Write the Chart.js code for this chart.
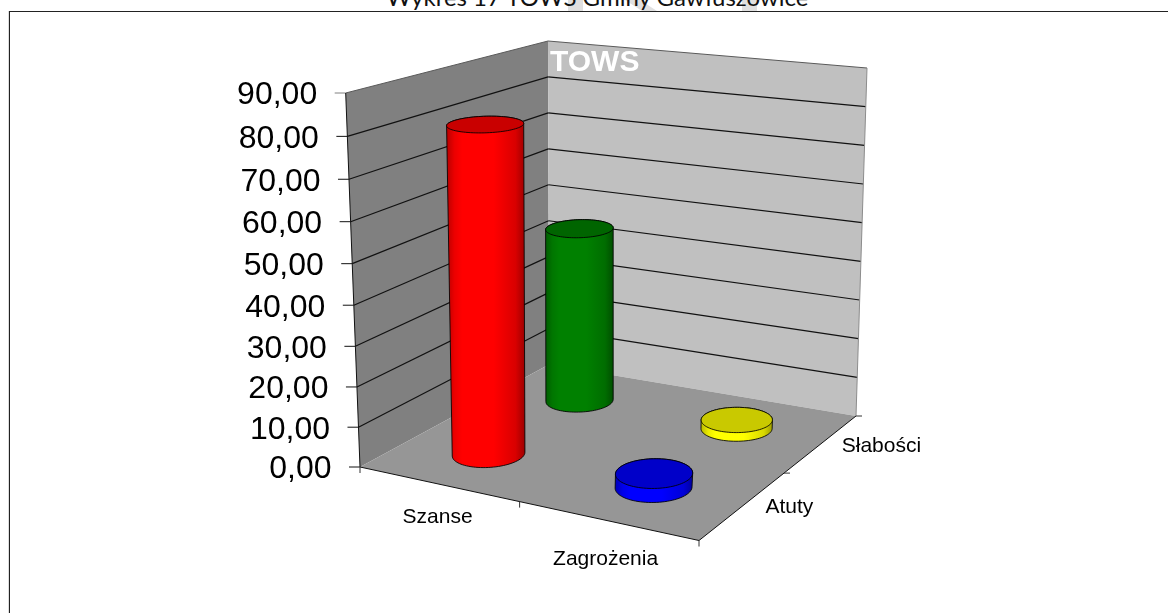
<!DOCTYPE html>
<html lang="pl"><head><meta charset="utf-8"><title>Wykres 17 TOWS Gminy Gawłuszowice</title>
<script src="https://cdn.jsdelivr.net/npm/chart.js@4"></script>
<style>
html,body{margin:0;padding:0;background:#fff;overflow:hidden;width:1168px;height:613px}
#wrap{position:relative;width:1168px;height:613px;overflow:hidden}
canvas{position:absolute;left:0;top:0}
.wm{position:absolute;left:0;top:0;width:1168px;height:11px;background:#e0e0e0}
#cap{position:absolute;left:0;width:1195px;text-align:center;top:-19px;font:24px/32px Lato,sans-serif;color:#111;white-space:nowrap}
#frame{position:absolute;left:9px;top:11px;right:-10px;bottom:-10px;border-left:1.5px solid #222;border-top:1.5px solid #222;box-shadow:-1px 0 0 #ddd}
</style></head><body><div id="wrap">
<div class="wm" style="clip-path:polygon(568px 0,583px 0,583px 11px,568px 11px)"></div>
<div class="wm" style="clip-path:polygon(625px 0,640px 0,657px 11px,642px 11px)"></div>
<div class="wm" style="clip-path:polygon(742px 0,757px 0,757px 11px,742px 11px)"></div>
<div id="cap">Wykres 17 TOWS Gminy Gawłuszowice</div><div id="frame"></div>
<canvas id="c" width="1168" height="613"></canvas></div>
<script>
const categories = ['Szanse', 'Zagrożenia'];
const depthLabels = ['Atuty', 'Słabości'];
const atuty = [81, 3.4];
const slabosci = [45.5, 2.2];
const atutyColors = ['#ff0000', '#0000ff'];
const slabosciColors = ['#008000', '#ffff00'];
const yMin = 0, yMax = 90, yStep = 10;

/* Scene geometry: the corners of the 3D box on the page (front-left, front-right, back-right, back-left) */
const floorCorners = [[360,467],[699,540.5],[856,416],[549,364.5]];
const ceilCorners = [[345.7,93],[730,142.5],[867,68],[548,41]];
const radiusU = 0.096, radiusW = 0.105;
const frontPerspective = 0.953, backPerspective = 1.0;

function homography(c){
  const [[x0,y0],[x1,y1],[x2,y2],[x3,y3]] = c;
  const dx1=x1-x2, dx2=x3-x2, dx3=x0-x1+x2-x3, dy1=y1-y2, dy2=y3-y2, dy3=y0-y1+y2-y3;
  const den=dx1*dy2-dx2*dy1, g=(dx3*dy2-dx2*dy3)/den, h=(dx1*dy3-dx3*dy1)/den;
  const a=x1-x0+g*x1,b=x3-x0+h*x3,d=y1-y0+g*y1,e=y3-y0+h*y3;
  return (u,w)=>{const W=g*u+h*w+1;return [(a*u+b*w+x0)/W,(d*u+e*w+y0)/W];};
}
const floorH = homography(floorCorners), ceilH = homography(ceilCorners);
function P(u,w,v){
  const B=floorH(u,w), T=ceilH(u,w), r=frontPerspective+(backPerspective-frontPerspective)*w;
  const den=(1-v)+r*v;
  return [(B[0]*(1-v)+r*T[0]*v)/den,(B[1]*(1-v)+r*T[1]*v)/den];
}
function poly(ctx,pts,fill,stroke){
  ctx.beginPath(); pts.forEach((p,i)=>i?ctx.lineTo(p[0],p[1]):ctx.moveTo(p[0],p[1])); ctx.closePath();
  if(fill){ctx.fillStyle=fill;ctx.fill();}
  if(stroke){ctx.strokeStyle=stroke;ctx.lineWidth=1;ctx.stroke();}
}
function line(ctx,a,b,color,lw){ctx.beginPath();ctx.moveTo(a[0],a[1]);ctx.lineTo(b[0],b[1]);ctx.strokeStyle=color;ctx.lineWidth=lw||1;ctx.stroke();}
function hull(pts){
  const s=[...pts].sort((a,b)=>a[0]-b[0]||a[1]-b[1]);
  const cr=(o,a,b)=>(a[0]-o[0])*(b[1]-o[1])-(a[1]-o[1])*(b[0]-o[0]);
  const lo=[],up=[];
  for(const p of s){while(lo.length>1&&cr(lo[lo.length-2],lo[lo.length-1],p)<=0)lo.pop();lo.push(p);}
  for(const p of s.reverse()){while(up.length>1&&cr(up[up.length-2],up[up.length-1],p)<=0)up.pop();up.push(p);}
  return lo.slice(0,-1).concat(up.slice(0,-1));
}
function shade(hex,f){
  const n=parseInt(hex.slice(1),16);
  return `rgb(${Math.round((n>>16&255)*f)},${Math.round((n>>8&255)*f)},${Math.round((n&255)*f)})`;
}
function norm(chart){
  const y=chart.scales.y;
  return {v:val=>(y.bottom-y.getPixelForValue(val))/(y.bottom-y.top)};
}
function cylinder(ctx,u,w,v,color){
  const b=[],t=[];
  for(let i=0;i<90;i++){
    const a=i/90*2*Math.PI, cu=u+radiusU*Math.cos(a), cw=w+radiusW*Math.sin(a);
    b.push(P(cu,cw,0)); t.push(P(cu,cw,v));
  }
  const all=hull(b.concat(t));
  const xs=all.map(p=>p[0]), l=Math.min(...xs), r=Math.max(...xs);
  const g=ctx.createLinearGradient(l,0,r,0);
  g.addColorStop(0,shade(color,.72));g.addColorStop(.1,shade(color,.92));g.addColorStop(.2,color);
  g.addColorStop(.6,color);g.addColorStop(.88,shade(color,.85));g.addColorStop(1,shade(color,.62));
  poly(ctx,all,g,'rgba(0,0,0,.85)');
  poly(ctx,t,shade(color,.79),'rgba(0,0,0,.85)');
}
const scene = {
  id:'scene',
  beforeDraw(chart){
    const ctx=chart.ctx, {v}=norm(chart), y=chart.scales.y, x=chart.scales.x, d=chart.scales.depth;
    ctx.save();
    poly(ctx,[P(0,0,0),P(0,1,0),P(0,1,1),P(0,0,1)],'#808080');
    poly(ctx,[P(0,1,0),P(1,1,0),P(1,1,1),P(0,1,1)],'#c0c0c0');
    poly(ctx,[P(0,0,0),P(1,0,0),P(1,1,0),P(0,1,0)],'#969696');
    y.ticks.forEach(t=>{
      const q=v(t.value);
      if(q>0&&q<1){line(ctx,P(0,0,q),P(0,1,q),'#111',1.2);line(ctx,P(0,1,q),P(1,1,q),'#111',1.2);}
      const o=P(0,0,q); line(ctx,[o[0]-11,o[1]],o,q===1?'#808080':'#111');
    });
    line(ctx,P(0,0,1),P(0,1,1),'#5a5a5a');line(ctx,P(0,1,1),P(1,1,1),'#5a5a5a');
    line(ctx,P(1,1,0),P(1,1,1),'#8c8c8c');
    line(ctx,P(0,0,0),P(0,0,1),'#111');
    line(ctx,P(0,0,0),P(1,0,0),'#111');line(ctx,P(1,0,0),P(1,1,0),'#111');
    for(const u of [0,.5,1]){const o=P(u,0,0);line(ctx,o,[o[0],o[1]+6],'#333');}
    for(const w of [.5,1]){const o=P(1,w,0);line(ctx,o,[o[0]+6,o[1]],'#333');}
    ctx.restore();
    /* native tick labels follow the projected axes */
    [y,x,d].forEach(s=>{s._computeLabelArea=()=>undefined;});
    y.getLabelItems().forEach((it,i)=>{
      const o=P(0,0,v(y.ticks[i].value));
      it.options.textAlign='right'; it.options.textBaseline='middle'; it.textOffset=0;
      it.options.translation=[o[0]-28.5,o[1]+2.5];
    });
    x.getLabelItems().forEach((it,i)=>{
      const o=P((x.getPixelForValue(i)-x.left)/x.width,0,0);
      it.options.textAlign='center'; it.options.textBaseline='middle'; it.textOffset=0;
      it.options.translation=[o[0]+[0,-1][i],o[1]+[33,39][i]];
    });
    d.getLabelItems().forEach((it,i)=>{
      const o=P(1,(d.getPixelForValue(i)-d.top)/d.height,0);
      it.options.textAlign='center'; it.options.textBaseline='middle'; it.textOffset=0;
      it.options.translation=[o[0]+[46,60][i],o[1]+[2,3][i]];
    });
    const tb=chart.titleBlock; tb.left=550; tb.right=900; tb.top=63-18; tb.bottom=81;
  },
  beforeDatasetDraw(){return false;},
  beforeDatasetsDraw(chart){
    const ctx=chart.ctx, x=chart.scales.x, d=chart.scales.depth;
    ctx.save();
    for(let ds=chart.data.datasets.length-1;ds>=0;ds--){
      const set=chart.data.datasets[ds];
      const w=(d.getPixelForValue(ds)-d.top)/d.height;
      set.data.forEach((val,i)=>{
        const u=(x.getPixelForValue(i)-x.left)/x.width;
        cylinder(ctx,u,w,norm(chart).v(val),set.backgroundColor[i]);
      });
    }
    ctx.restore();
  }
};
new Chart(document.getElementById('c'),{
  type:'bar',
  data:{labels:categories,datasets:[
    {label:depthLabels[0],data:atuty,backgroundColor:atutyColors},
    {label:depthLabels[1],data:slabosci,backgroundColor:slabosciColors}
  ]},
  options:{
    responsive:false,animation:false,events:[],
    layout:{padding:{top:60,left:10,right:10,bottom:10}},
    plugins:{legend:{display:false},tooltip:{enabled:false},
      title:{display:true,text:'TOWS',color:'#ffffff',align:'start',padding:0,
        font:{family:'"Liberation Sans"',size:30,weight:'bold',lineHeight:1.2}}},
    scales:{
      x:{type:'category',offset:true,grid:{display:false},border:{display:false},
        ticks:{autoSkip:false,maxRotation:0,color:'#000',font:{family:'"Liberation Sans"',size:21}}},
      depth:{type:'category',axis:'y',labels:depthLabels,offset:true,position:'right',grid:{display:false},border:{display:false},
        ticks:{autoSkip:false,color:'#000',font:{family:'"Liberation Sans"',size:21}}},
      y:{type:'linear',min:yMin,max:yMax,position:'left',grid:{display:false},border:{display:false},
        ticks:{stepSize:yStep,autoSkip:false,color:'#000',font:{family:'"Liberation Sans"',size:32},
          callback:val=>val.toFixed(2).replace('.',',')}}
    }
  },
  plugins:[scene]
});
</script></body></html>
